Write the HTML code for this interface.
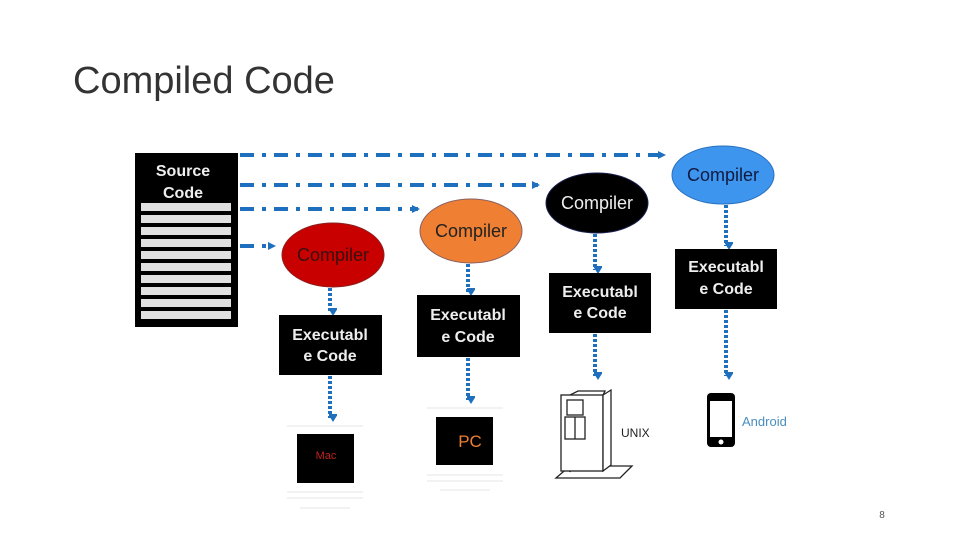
<!DOCTYPE html>
<html><head><style>
body{margin:0;background:#fff;}
svg{display:block;font-family:"Liberation Sans",sans-serif;}
</style></head><body>
<svg width="960" height="540" viewBox="0 0 960 540">
<defs>
<marker id="a" markerWidth="8" markerHeight="8" refX="6" refY="4" orient="auto" markerUnits="userSpaceOnUse"><path d="M0,0 L8,4 L0,8 z" fill="#1f6fbf"/></marker>
<marker id="b" markerWidth="10" markerHeight="8" refX="5" refY="7" orient="auto" markerUnits="userSpaceOnUse"><path d="M0,0 L5,8 L10,0 z" fill="#1f6fbf" transform="rotate(-90 5 4)"/></marker>
</defs>
<text x="73" y="93" font-size="38" fill="#333" font-family="Liberation Sans, sans-serif">Compiled Code</text>
<!-- source -->
<rect x="135" y="153" width="103" height="174" fill="#000"/>
<text x="183" y="176" font-size="16" font-weight="bold" fill="#eee" text-anchor="middle">Source</text>
<text x="183" y="198" font-size="16" font-weight="bold" fill="#eee" text-anchor="middle">Code</text>
<g fill="#e0e0e0">
<rect x="141" y="203" width="90" height="8"/><rect x="141" y="215" width="90" height="8"/><rect x="141" y="227" width="90" height="8"/><rect x="141" y="239" width="90" height="8"/><rect x="141" y="251" width="90" height="8"/><rect x="141" y="263" width="90" height="8"/><rect x="141" y="275" width="90" height="8"/><rect x="141" y="287" width="90" height="8"/><rect x="141" y="299" width="90" height="8"/><rect x="141" y="311" width="90" height="8"/>
</g>
<!-- dash-dot lines -->
<g stroke="#1f6fbf" stroke-width="4" stroke-dasharray="14,8,4,8" fill="none">
<line x1="240" y1="155" x2="664" y2="155" marker-end="url(#a)"/>
<line x1="240" y1="185" x2="538" y2="185" marker-end="url(#a)"/>
<line x1="240" y1="209" x2="418" y2="209" marker-end="url(#a)"/>
<line x1="240" y1="246" x2="274" y2="246" marker-end="url(#a)"/>
</g>
<!-- ellipses -->
<ellipse cx="333" cy="255" rx="51" ry="32" fill="#c80000" stroke="#8a2020"/>
<text x="333" y="261" font-size="18" fill="#3a1010" text-anchor="middle">Compiler</text>
<ellipse cx="471" cy="231" rx="51" ry="32" fill="#ee7f33" stroke="#8a6060"/>
<text x="471" y="237" font-size="18" fill="#222" text-anchor="middle">Compiler</text>
<ellipse cx="597" cy="203" rx="51" ry="30" fill="#000" stroke="#1a2050"/>
<text x="597" y="209" font-size="18" fill="#eee" text-anchor="middle">Compiler</text>
<ellipse cx="723" cy="175" rx="51" ry="29" fill="#3d95ee" stroke="#2a70c0"/>
<text x="723" y="181" font-size="18" fill="#111a40" text-anchor="middle">Compiler</text>
<!-- vertical dotted arrows -->
<g stroke="#1f6fbf" stroke-width="4" stroke-dasharray="3,2" fill="none">
<line x1="330" y1="288" x2="330" y2="312" marker-end="url(#b)"/>
<line x1="468" y1="264" x2="468" y2="292" marker-end="url(#b)"/>
<line x1="595" y1="234" x2="595" y2="270" marker-end="url(#b)"/>
<line x1="726" y1="205" x2="726" y2="246" marker-end="url(#b)"/>
<line x1="330" y1="376" x2="330" y2="418" marker-end="url(#b)"/>
<line x1="468" y1="358" x2="468" y2="400" marker-end="url(#b)"/>
<line x1="595" y1="334" x2="595" y2="376" marker-end="url(#b)"/>
<line x1="726" y1="310" x2="726" y2="376" marker-end="url(#b)"/>
</g>
<!-- exec boxes -->
<g font-size="16" font-weight="bold" fill="#eee" text-anchor="middle">
<rect x="279" y="315" width="103" height="60" fill="#000"/>
<text x="330" y="340">Executabl</text><text x="330" y="361">e Code</text>
<rect x="417" y="295" width="103" height="62" fill="#000"/>
<text x="468" y="320">Executabl</text><text x="468" y="342">e Code</text>
<rect x="549" y="273" width="102" height="60" fill="#000"/>
<text x="600" y="297">Executabl</text><text x="600" y="318">e Code</text>
<rect x="675" y="249" width="102" height="60" fill="#000"/>
<text x="726" y="272">Executabl</text><text x="726" y="294">e Code</text>
</g>
<!-- Mac -->
<g stroke="#e4e4e4" stroke-width="1">
<line x1="287" y1="426" x2="363" y2="426"/><line x1="287" y1="492" x2="363" y2="492"/><line x1="287" y1="498" x2="363" y2="498"/><line x1="300" y1="508" x2="350" y2="508"/>
<line x1="427" y1="408" x2="503" y2="408"/><line x1="427" y1="475" x2="503" y2="475"/><line x1="427" y1="481" x2="503" y2="481"/><line x1="440" y1="490" x2="490" y2="490"/>
</g>
<rect x="297" y="434" width="57" height="49" fill="#000"/>
<text x="326" y="459" font-size="11" fill="#c02020" text-anchor="middle">Mac</text>
<rect x="436" y="417" width="57" height="48" fill="#000"/>
<text x="470" y="447" font-size="17" fill="#ee7f33" text-anchor="middle">PC</text>
<!-- UNIX server -->
<g fill="#fff" stroke="#222" stroke-width="1.3">
<path d="M556,478 L570,466 L632,466 L620,478 Z"/>
<path d="M570,472 L570,395 L578,391 L605,391 L603,395 Z" />
<rect x="561" y="395" width="42" height="76"/>
<path d="M603,395 L611,390 L611,465 L603,471 Z"/>
<rect x="567" y="400" width="16" height="15"/>
<rect x="565" y="417" width="20" height="22"/>
<line x1="575" y1="417" x2="575" y2="439"/>
</g>
<text x="621" y="437" font-size="12" fill="#222">UNIX</text>
<!-- phone -->
<rect x="707" y="393" width="28" height="54" rx="4" fill="#000"/>
<rect x="710" y="401" width="22" height="36" fill="#fff"/>
<circle cx="721" cy="442" r="2.5" fill="#fff"/>
<text x="742" y="426" font-size="13" fill="#4a8ec0">Android</text>
<text x="882" y="518" font-size="10" fill="#555" text-anchor="middle">8</text>
</svg>
</body></html>
